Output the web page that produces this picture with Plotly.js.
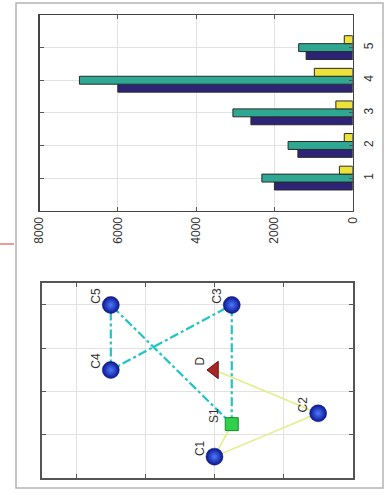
<!DOCTYPE html>
<html><head><meta charset="utf-8">
<script src="https://cdn.plot.ly/plotly-3.0.1.min.js"></script>
<style>html,body{margin:0;padding:0;background:#fff;}#chart{width:390px;height:495px;}</style>
</head><body><div id="chart"></div>
<script>
// Bar chart data (groups 1..5, three series)
const categories = [1, 2, 3, 4, 5];
const seriesA = [2000, 1400, 2600, 6000, 1190];
const seriesB = [2320, 1650, 3060, 6980, 1380];
const seriesC = [340, 215, 430, 980, 215];
const valueTicks = [0, 2000, 4000, 6000, 8000];

// Network map data (original coordinates)
const nodeNames = ['D', 'S1', 'C1', 'C2', 'C3', 'C4', 'C5'];
const nodeX = [50, 25, 10, 30, 80, 50, 80];
const nodeY = [40, 35, 40, 10, 35, 70, 70];
const routeCyan = ['S1', 'C3', 'C4', 'C5', 'S1'];
const routeYellow = ['D', 'C2', 'C1', 'S1'];
const mapTicks = [0, 20, 40, 60, 80];

const W = 390, H = 495;
const px = v => v / W, py = v => 1 - v / H;
const idx = n => nodeNames.indexOf(n);
const font = {family: 'Liberation Sans, Arial, sans-serif', size: 12, color: '#333'};

const barColors = ['#2d2478', '#2ea893', '#ece23a'];
const barSeries = [seriesA, seriesB, seriesC];
const traces = barSeries.map((s, i) => ({
  type: 'bar', orientation: 'h', x: s, y: categories,
  xaxis: 'x', yaxis: 'y',
  marker: {color: barColors[i], line: {color: '#2a2a2a', width: 1}},
  showlegend: false
}));

function routeTrace(route, color, dash, width) {
  return {
    type: 'scatter', mode: 'lines', xaxis: 'x2', yaxis: 'y2',
    x: route.map(n => nodeY[idx(n)]), y: route.map(n => nodeX[idx(n)]),
    line: {color: color, dash: dash, width: width}, showlegend: false
  };
}
traces.push(routeTrace(routeYellow, '#e4ee86', 'solid', 1.6));
traces.push(routeTrace(routeCyan, '#1fc4c4', 'dashdot', 2.2));

const cust = nodeNames.filter(n => n[0] === 'C');
traces.push({
  type: 'scatter', mode: 'markers', xaxis: 'x2', yaxis: 'y2',
  x: cust.map(n => nodeY[idx(n)]), y: cust.map(n => nodeX[idx(n)]),
  marker: {size: 17, color: '#0a1690', gradient: {type: 'radial', color: '#4f78ff'},
           line: {color: '#0a1470', width: 0.5}}, showlegend: false
});
traces.push({
  type: 'scatter', mode: 'markers', xaxis: 'x2', yaxis: 'y2',
  x: [nodeY[idx('S1')]], y: [nodeX[idx('S1')]],
  marker: {size: 13, symbol: 'square', color: '#2fd04a', line: {color: '#1a8a2a', width: 1}}, showlegend: false
});
traces.push({
  type: 'scatter', mode: 'markers', xaxis: 'x2', yaxis: 'y2',
  x: [nodeY[idx('D')]], y: [nodeX[idx('D')]],
  marker: {size: 15, symbol: 'triangle-left', color: '#a82626', line: {color: '#6a1010', width: 1}}, showlegend: false
});

const annotations = nodeNames.map(n => ({
  xref: 'x2', yref: 'y2', x: nodeY[idx(n)], y: nodeX[idx(n)],
  text: n, showarrow: false, textangle: -90,
  xshift: n === 'S1' ? -18 : -15, yshift: 9,
  font: {family: font.family, size: 12, color: '#333'}
}));

const frame = {showline: true, linecolor: '#444', linewidth: 1.5, mirror: 'ticks',
  ticks: 'inside', ticklen: 4, tickcolor: '#555', gridcolor: '#e2e2e2', gridwidth: 1,
  zeroline: false, showgrid: true};

const layout = {
  width: W, height: H, margin: {l: 0, r: 0, t: 0, b: 0},
  paper_bgcolor: '#fff', plot_bgcolor: '#fff', font: font,
  barmode: 'group', bargap: 0.27, bargroupgap: 0,
  xaxis: Object.assign({}, frame, {domain: [px(39.5), px(352.7)], range: [8000, 0],
    tickvals: valueTicks, tickangle: -90, side: 'bottom', anchor: 'y'}),
  yaxis: Object.assign({}, frame, {domain: [py(210.7), py(15)], range: [0, 6],
    tickvals: categories, tickangle: -90, side: 'right', anchor: 'x', ticklabelstandoff: 4}),
  xaxis2: Object.assign({}, frame, {domain: [px(41.7), px(352.7)], range: [90, 0],
    tickvals: mapTicks, showticklabels: false, anchor: 'y2', linewidth: 2, linecolor: '#555'}),
  yaxis2: Object.assign({}, frame, {domain: [py(478.3), py(283.3)], range: [0, 90],
    tickvals: mapTicks, showticklabels: false, anchor: 'x2', linewidth: 2, linecolor: '#555'}),
  annotations: annotations,
  shapes: [
    {type: 'rect', xref: 'paper', yref: 'paper', x0: px(16), x1: px(383), y0: py(488), y1: py(3),
     line: {color: '#b4b4b4', width: 1.5}},
    {type: 'line', xref: 'paper', yref: 'paper', x0: px(0), x1: px(14), y0: py(244), y1: py(244),
     line: {color: '#e07a7a', width: 1.5}}
  ]
};

Plotly.newPlot('chart', traces, layout, {staticPlot: true, displayModeBar: false});
</script></body></html>
